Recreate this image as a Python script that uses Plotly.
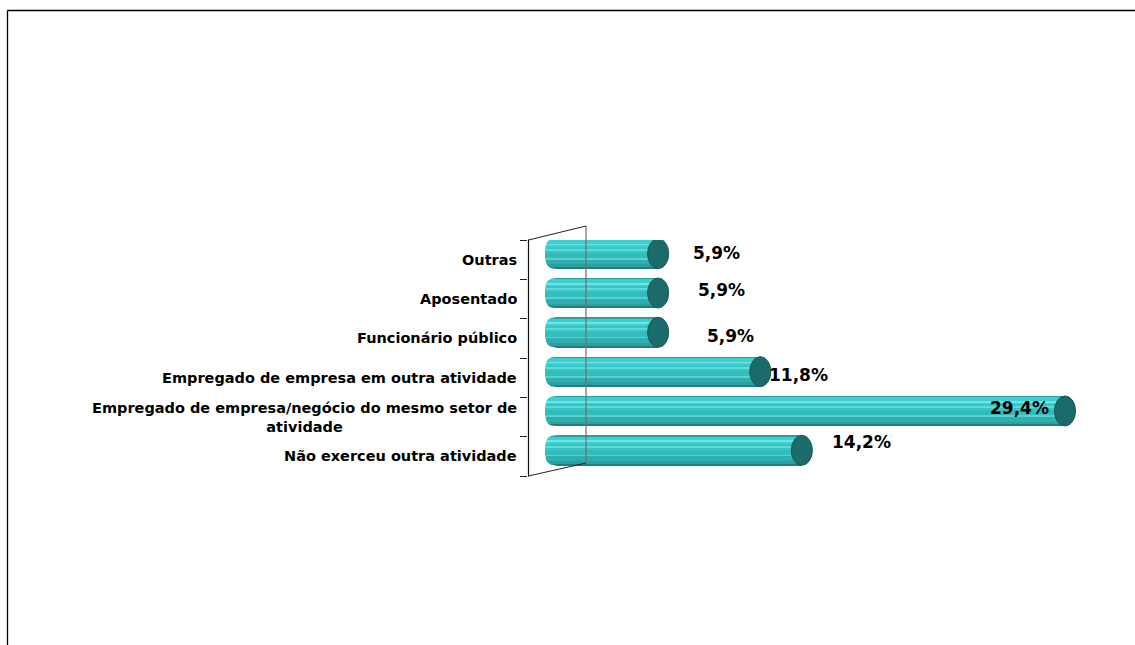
import plotly.graph_objects as go

# Categories listed bottom to top (index 0 is the lowest bar)
categories = [
    "Não exerceu outra atividade",
    "Empregado de empresa/negócio do mesmo setor de<br>atividade",
    "Empregado de empresa em outra atividade",
    "Funcionário público",
    "Aposentado",
    "Outras",
]
values = [14.2, 29.4, 11.8, 5.9, 5.9, 5.9]

# Label nudges in pixels (x right, y up) relative to the end of each bar
label_dx = [60, -45, 38, 72, 63, 58]
label_dy = [8, 3, -3, -4, 3, 1]

W, H = 1135, 645
ML, MR, MT, MB = 528, 25, 240, 169
PW, PH = W - ML - MR, H - MT - MB

X_MIN, X_MAX = -1.617, 32.0
UNIT_PX = PW / (X_MAX - X_MIN)          # pixels per percentage point
CAT_PX = PH / 6.0                        # pixels per category band
BAR_SHIFT = 0.153      # bars sit slightly behind/above the category band centre
BAR_H = 0.763          # cylinder thickness in category units
CAP_W = 0.61           # half width of the end ellipse in value units
ROUND_X = 10 / UNIT_PX  # rounding of the back end of the cylinder
ROUND_Y = 10 / CAT_PX


def px(xp):
    return (xp - ML) / PW


def py(yp):
    return ((MT + PH) - yp) / PH


# cylinder shading, as (top fraction, bottom fraction, colour)
stripes = [
    (0.00, 1.00, "#33bfbf"),
    (0.00, 0.05, "#2b9f9f"),
    (0.05, 0.28, "#3dd0d0"),
    (0.18, 0.21, "#74e3e3"),
    (0.28, 0.48, "#37c6c6"),
    (0.36, 0.39, "#62d8d8"),
    (0.48, 0.66, "#33bcbc"),
    (0.66, 0.70, "#5ccfcf"),
    (0.70, 0.86, "#2eaeae"),
    (0.86, 0.95, "#2aa1a1"),
    (0.95, 1.00, "#237f7f"),
]

fig = go.Figure()
idx = list(range(len(categories)))
for top, bot, col in stripes:
    mid = BAR_H / 2 - BAR_H * (top + bot) / 2
    fig.add_trace(go.Bar(
        orientation="h",
        base=-CAP_W,
        x=[v + CAP_W for v in values],
        y=[i + BAR_SHIFT + mid for i in idx],
        width=BAR_H * (bot - top),
        marker=dict(color=col, line=dict(width=0)),
        hoverinfo="skip",
        showlegend=False,
    ))

shapes = []
for i, v in zip(idx, values):
    yc = i + BAR_SHIFT
    yt, yb, xl = yc + BAR_H / 2, yc - BAR_H / 2, -CAP_W
    # round off the back end of the cylinder
    shapes.append(dict(type="path", xref="x", yref="y", layer="above",
                       path=(f"M{xl - 0.05},{yt + 0.02} L{xl + ROUND_X},{yt + 0.02} "
                             f"L{xl + ROUND_X},{yt} Q{xl},{yt} {xl},{yt - ROUND_Y} "
                             f"L{xl - 0.05},{yt - ROUND_Y} Z"),
                       fillcolor="white", line=dict(width=0)))
    shapes.append(dict(type="path", xref="x", yref="y", layer="above",
                       path=(f"M{xl - 0.05},{yb - 0.02} L{xl + ROUND_X},{yb - 0.02} "
                             f"L{xl + ROUND_X},{yb} Q{xl},{yb} {xl},{yb + ROUND_Y} "
                             f"L{xl - 0.05},{yb + ROUND_Y} Z"),
                       fillcolor="white", line=dict(width=0)))
    # dark front cap
    shapes.append(dict(type="circle", xref="x", yref="y", layer="above",
                       x0=v - CAP_W, x1=v + CAP_W, y0=yb, y1=yt,
                       fillcolor="#1d6a6a", line=dict(color="#185c5c", width=1)))

# 3-D wall outline
wall = "#222222"
shapes += [
    dict(type="line", xref="paper", yref="paper", layer="above",
         x0=px(586), y0=py(226), x1=px(586), y1=py(463), line=dict(color="#6e6e6e", width=1.2)),
    dict(type="line", xref="paper", yref="paper", layer="above",
         x0=px(528.5), y0=py(240), x1=px(586), y1=py(226), line=dict(color=wall, width=1)),
    dict(type="line", xref="paper", yref="paper", layer="above",
         x0=px(528.5), y0=py(476), x1=px(586), y1=py(463), line=dict(color=wall, width=1)),
    dict(type="line", xref="paper", yref="paper", layer="above",
         x0=px(528.5), y0=py(239.5), x1=px(528.5), y1=py(476.5), line=dict(color="#111111", width=1.2)),
    # outer frame
    dict(type="line", xref="paper", yref="paper",
         x0=px(7.5), y0=py(10.5), x1=px(W), y1=py(10.5), line=dict(color="black", width=1.3)),
    dict(type="line", xref="paper", yref="paper",
         x0=px(7.5), y0=py(10.5), x1=px(7.5), y1=py(H), line=dict(color="black", width=1.3)),
]

annotations = []
for i, name in zip(idx, categories):
    annotations.append(dict(
        xref="paper", yref="y", x=0, y=i, xanchor="right", yanchor="middle",
        xshift=-9, text=name, showarrow=False, align="center",
        font=dict(family="DejaVu Sans", size=14.5, color="black", weight="bold"),
    ))
for i, v, dx, dy in zip(idx, values, label_dx, label_dy):
    annotations.append(dict(
        xref="x", yref="y", x=v, y=i + BAR_SHIFT, xanchor="center", yanchor="middle",
        xshift=dx, yshift=dy, showarrow=False,
        text=f"{v:.1f}".replace(".", ",") + "%",
        font=dict(family="DejaVu Sans", size=17, color="black", weight="bold"),
    ))

fig.update_layout(
    width=W, height=H,
    margin=dict(l=ML, r=MR, t=MT, b=MB, pad=0),
    paper_bgcolor="white", plot_bgcolor="rgba(0,0,0,0)",
    barmode="overlay", bargap=0,
    showlegend=False,
    shapes=shapes, annotations=annotations,
    xaxis=dict(range=[X_MIN, X_MAX], visible=False, fixedrange=True),
    yaxis=dict(range=[-0.5, len(categories) - 0.5], showgrid=False, zeroline=False,
               tickvals=[k - 0.5 for k in range(len(categories) + 1)],
               showticklabels=False, ticks="outside", ticklen=7, tickcolor=wall,
               showline=False, fixedrange=True),
)

fig.write_html("out.html", config={"displayModeBar": False})
